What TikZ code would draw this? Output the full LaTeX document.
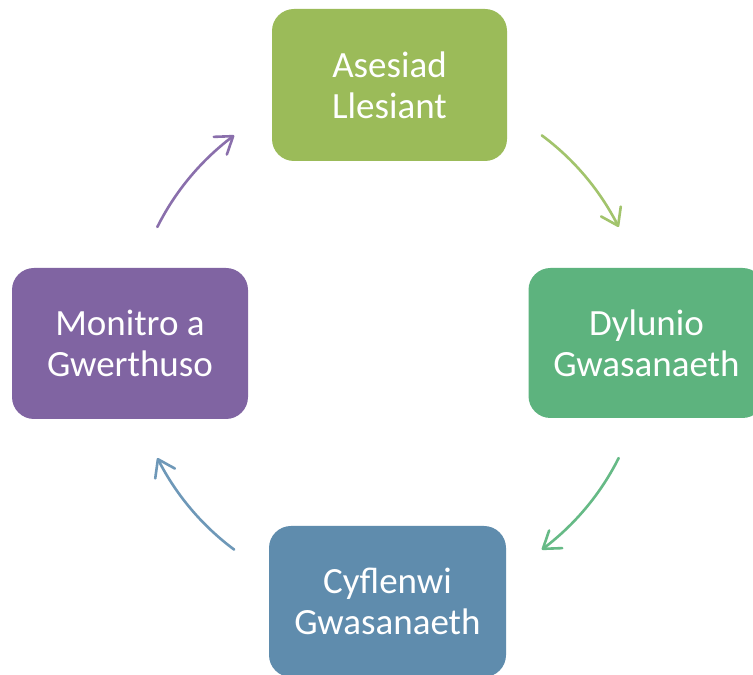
\documentclass[tikz,border=0pt]{standalone}
\usepackage{fontspec}
\setmainfont{Carlito}
\usetikzlibrary{arrows.meta,bending,calc}
\definecolor{cTop}{HTML}{9BBB59}
\definecolor{cRight}{HTML}{5DB37E}
\definecolor{cBottom}{HTML}{5F8CAD}
\definecolor{cLeft}{HTML}{8064A2}
\definecolor{aTop}{HTML}{A2C46C}
\definecolor{aRight}{HTML}{66BA86}
\definecolor{aBottom}{HTML}{6E98B8}
\definecolor{aLeft}{HTML}{8A6FAC}
\tikzset{
  stagebox/.style={rounded corners=22pt, inner sep=0pt, text=white, align=center,
    font=\fontsize{37}{41}\selectfont},
  cyclearrow/.style={line width=2.6pt, line cap=round,
    -{Straight Barb[length=16pt,width=22pt,line width=2.6pt,round]}}
}
\begin{document}
\begin{tikzpicture}[x=1pt,y=1pt]
\path[use as bounding box, clip] (0,0) rectangle (753,675);
\fill[white] (0,0) rectangle (753,675);
\coordinate (c) at (388,332.5);
\node[stagebox, fill=cTop, minimum width=235pt, minimum height=152pt] (top) at (389.5,590) {Asesiad\\Llesiant};
\node[stagebox, fill=cRight, minimum width=236pt, minimum height=150pt] (right) at (646.5,332) {Dylunio\\Gwasanaeth};
\node[stagebox, fill=cBottom, minimum width=237pt, minimum height=151pt] (bottom) at (387.5,73.5) {Cyflenwi\\Gwasanaeth};
\node[stagebox, fill=cLeft, minimum width=236pt, minimum height=151pt] (left) at (130,331.5) {Monitro a\\Gwerthuso};
\coordinate (a1) at ($(c)+(53.4:258)$);
\coordinate (a2) at ($(c)+(-26.6:258)$);
\coordinate (a3) at ($(c)+(233.4:258)$);
\coordinate (a4) at ($(c)+(153.4:258)$);
\draw[cyclearrow, draw=aTop] (a1) arc[start angle=53.4, end angle=26.6, radius=258];
\draw[cyclearrow, draw=aRight] (a2) arc[start angle=-26.6, end angle=-53.4, radius=258];
\draw[cyclearrow, draw=aBottom] (a3) arc[start angle=233.4, end angle=206.6, radius=258];
\draw[cyclearrow, draw=aLeft] (a4) arc[start angle=153.4, end angle=126.6, radius=258];
\end{tikzpicture}
\end{document}
